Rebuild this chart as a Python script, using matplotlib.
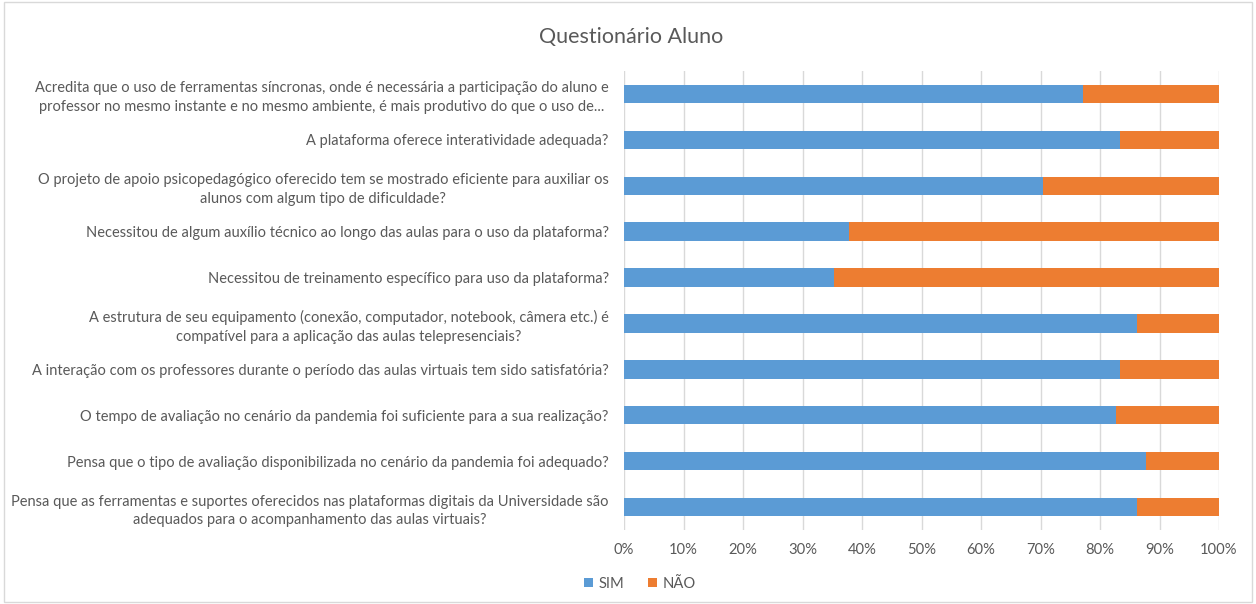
import numpy as np
import matplotlib.pyplot as plt
from matplotlib.patches import Rectangle

# perguntas do questionário (de cima para baixo)
perguntas = [
    "Acredita que o uso de ferramentas síncronas, onde é necessária a participação do aluno e\nprofessor no mesmo instante e no mesmo ambiente, é mais produtivo do que o uso de...",
    "A plataforma oferece interatividade adequada?",
    "O projeto de apoio psicopedagógico oferecido tem se mostrado eficiente para auxiliar os\nalunos com algum tipo de dificuldade?",
    "Necessitou de algum auxílio técnico ao longo das aulas para o uso da plataforma?",
    "Necessitou de treinamento específico para uso da plataforma?",
    "A estrutura de seu equipamento (conexão, computador, notebook, câmera etc.) é\ncompatível para a aplicação das aulas telepresenciais?",
    "A interação com os professores durante o período das aulas virtuais tem sido satisfatória?",
    "O tempo de avaliação no cenário da pandemia foi suficiente para a sua realização?",
    "Pensa que o tipo de avaliação disponibilizada no cenário da pandemia foi adequado?",
    "Pensa que as ferramentas e suportes oferecidos nas plataformas digitais da Universidade são\nadequados para o acompanhamento das aulas virtuais?",
]

# percentual de respostas SIM (o restante é NÃO)
sim = [77.2, 83.3, 70.5, 37.8, 35.3, 86.2, 83.3, 82.7, 87.7, 86.3]
nao = [100 - v for v in sim]

cor_sim = "#5B9BD5"
cor_nao = "#ED7D31"
cinza = "#595959"

plt.rcParams['font.family'] = ['Lato', 'DejaVu Sans']

fig = plt.figure(figsize=(12.56, 6.04), dpi=100)
ax = fig.add_axes([624 / 1256, 1 - 530 / 604, 595 / 1256, 459 / 604])

y = np.arange(len(perguntas))
ax.barh(y, sim, height=0.4, color=cor_sim, label="SIM", zorder=3)
ax.barh(y, nao, left=sim, height=0.4, color=cor_nao, label="NÃO", zorder=3)

ax.set_xlim(0, 100)
ax.set_ylim(len(perguntas) - 0.5, -0.5)
ax.set_xticks(np.arange(0, 101, 10))
ax.set_xticklabels([f"{v}%" for v in range(0, 101, 10)], fontsize=10.6)
ax.set_yticks(y)
ax.set_yticklabels(perguntas, multialignment='center', linespacing=1.4, fontsize=10.55)
ax.tick_params(axis='both', length=0, colors=cinza)
ax.tick_params(axis='x', pad=9)
ax.tick_params(axis='y', pad=11)

ax.grid(axis='x', color="#D9D9D9", linewidth=1, zorder=0)
for s in ax.spines.values():
    s.set_visible(False)

fig.text(631 / 1256, 1 - 37 / 604, "Questionário Aluno", ha='center', va='center',
         fontsize=15.5, color=cinza)

fig.legend(loc='center', bbox_to_anchor=(640 / 1256, 1 - 584 / 604), ncol=2,
           frameon=False, fontsize=10.6, labelcolor=cinza, handlelength=0.6,
           handleheight=0.6, handletextpad=0.4, columnspacing=1.6)

# moldura do gráfico
fig.patches.append(Rectangle((0.003, 0.003), 0.994, 0.994, transform=fig.transFigure,
                             fill=False, edgecolor="#D9D9D9", linewidth=1))

fig.savefig("out.png", dpi=100)
